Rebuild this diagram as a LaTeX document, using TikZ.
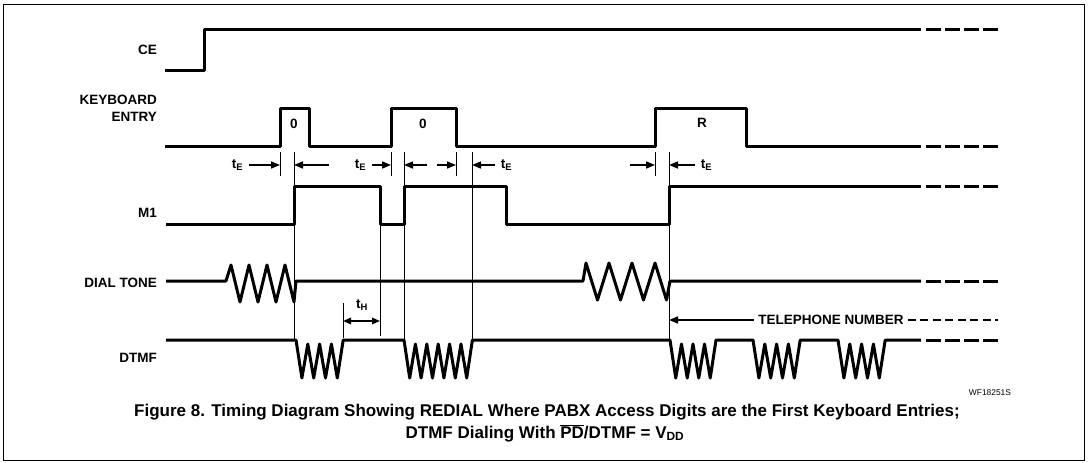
\documentclass[tikz,border=0pt]{standalone}
\usepackage{fontspec}
\setmainfont{Liberation Sans}
\usetikzlibrary{arrows.meta}

\tikzset{
  sig/.style={line width=3pt, line join=round},
  sigdash/.style={line width=3pt, dash pattern=on 14.5pt off 4.5pt},
  guide/.style={line width=0.9pt},
  dim/.style={line width=1.6pt, -{Triangle[length=9pt,width=7pt]}},
  signame/.style={font=\fontsize{13.5}{17}\selectfont\bfseries, anchor=east, align=right, inner sep=0pt},
  tlab/.style={font=\fontsize{13.5}{15}\selectfont\bfseries, inner sep=0pt},
}

\begin{document}
\begin{tikzpicture}[x=1pt, y=-1pt]
\useasboundingbox (0,0) rectangle (1088,463);
\draw[line width=1pt] (3,4) rectangle (1084,460);

% --- signal names ---
\node[signame] (nce) at (157,50) {CE};
\node[signame] (nkey) at (157,108.5) {KEYBOARD\\ENTRY};
\node[signame] (nm1) at (157,213) {M1};
\node[signame] (ntone) at (157,283) {DIAL TONE};
\node[signame] (ndtmf) at (157,358) {DTMF};

% --- CE ---
\draw[sig] (165,70) -- (204,70) -- (204,29) -- (921,29);
\draw[sigdash] (926,29) -- (998,29);

% --- keyboard entry ---
\draw[sig] (165,146) -- (280,146) -- (280,108) -- (309,108) -- (309,146)
  -- (391,146) -- (391,108) -- (456,108) -- (456,146)
  -- (655,146) -- (655,108) -- (746,108) -- (746,146) -- (921,146);
\draw[sigdash] (926,146) -- (998,146);
\node[tlab] (key0a) at (294,124) {0};
\node[tlab] (key0b) at (423,124) {0};
\node[tlab] (keyR) at (702,123) {R};

% --- M1 ---
\draw[sig] (166,224) -- (294,224) -- (294,186) -- (380,186) -- (380,224)
  -- (404,224) -- (404,186) -- (506,186) -- (506,224)
  -- (669,224) -- (669,186) -- (921,186);
\draw[sigdash] (926,186) -- (998,186);

% --- dial tone ---
\draw[sig] (166,281) -- (226,281) -- ++(5,-16)
  \foreach \k in {1,2,3} { -- ++(9,37) -- ++(9,-37) } -- ++(9,37) -- ++(2,-21)
  -- (583,281) -- ++(3,-18)
  \foreach \k in {1,2,3} { -- ++(11.5,37) -- ++(11.5,-37) } -- ++(11.5,37) -- ++(3.5,-19)
  -- (921,281);
\draw[sigdash] (926,281) -- (998,281);

% --- DTMF ---
\draw[sig] (166,340) -- (296,340) -- ++(5.9,38)
  \foreach \k in {2,...,4} { -- ++(5.9,-34) -- ++(5.9,34) } -- ++(5.9,-38)
  -- (404,340) -- ++(5.7,38)
  \foreach \k in {2,...,6} { -- ++(5.7,-34) -- ++(5.7,34) } -- ++(5.7,-38)
  -- (670,340) -- ++(5.75,38)
  \foreach \k in {2,...,4} { -- ++(5.75,-34) -- ++(5.75,34) } -- ++(5.75,-38)
  -- (753,340) -- ++(5.9,38)
  \foreach \k in {2,...,4} { -- ++(5.9,-34) -- ++(5.9,34) } -- ++(5.9,-38)
  -- (838,340) -- ++(5.9,38)
  \foreach \k in {2,...,4} { -- ++(5.9,-34) -- ++(5.9,34) } -- ++(5.9,-38)
  -- (921,340);
\draw[sigdash] (926,340) -- (998,340);

% --- timing marks ---
\coordinate (tickTop) at (0,152);
\coordinate (tickBot) at (0,176);
\coordinate (m1Low) at (0,224);
\coordinate (thTop) at (0,303);
\coordinate (thRow) at (0,321);
\coordinate (dtmfBase) at (0,340);
\foreach \n/\x in {ka/280, ma/294, tb/343, mb/380, kb/391, mc/404, kc/456, dc/472, kd/655, md/669}
  \coordinate (\n) at (\x,165);
\foreach \n in {ka,kb,kc,kd}
  \draw[guide] (\n |- tickTop) -- (\n |- tickBot);
\foreach \n in {ma,mc,dc,md}
  \draw[guide] (\n |- tickTop) -- (\n |- dtmfBase);
\draw[guide] (mb |- m1Low) -- ([yshift=4pt]mb |- dtmfBase);
\draw[guide] (tb |- thTop) -- ([yshift=2pt]tb |- dtmfBase);

\draw[dim] ([xshift=-31pt]ka) node[tlab, left=5pt] (te1) {t\textsubscript{E}} -- (ka);
\draw[dim] ([xshift=35pt]ma) -- (ma);
\draw[dim] ([xshift=-19pt]kb) node[tlab, left=5pt] (te2) {t\textsubscript{E}} -- (kb);
\draw[dim] ([xshift=23pt]mc) -- (mc);
\draw[dim] ([xshift=-19pt]kc) -- (kc);
\draw[dim] ([xshift=23pt]dc) node[tlab, right=5pt] (te3) {t\textsubscript{E}} -- (dc);
\draw[dim] ([xshift=-25pt]kd) -- (kd);
\draw[dim] ([xshift=26pt]md) node[tlab, right=5pt] (te4) {t\textsubscript{E}} -- (md);

\draw[line width=1.5pt, {Triangle[length=8pt,width=6.5pt]}-{Triangle[length=8pt,width=6.5pt]}]
  (tb |- thRow) -- (mb |- thRow);
\node[tlab] (th) at (362,305) {t\textsubscript{H}};

% --- telephone number ---
\node[tlab] (tel) at (831,320) {TELEPHONE NUMBER};
\draw[dim, line width=1.4pt] ([xshift=-4pt]tel.west) -- (md |- tel);
\coordinate (telEnd) at (998,320);
\draw[line width=1.4pt, dash pattern=on 8pt off 4.5pt] ([xshift=4pt]tel.east) -- (telEnd);

% --- caption ---
\node[font=\fontsize{8.4}{10}\selectfont, inner sep=0pt] (wf) at (990,393) {WF18251S};
\node[font=\fontsize{17}{20}\selectfont\bfseries, inner sep=0pt] (cap1) at (547,412)
  {Figure 8. Timing Diagram Showing REDIAL Where PABX Access Digits are the First Keyboard Entries;};
\node[font=\fontsize{17}{20}\selectfont\bfseries, inner sep=0pt] (cap2) at (545,433)
  {DTMF Dialing With $\overline{\mbox{PD}}$/DTMF = V\textsubscript{DD}};
\end{tikzpicture}
\end{document}
